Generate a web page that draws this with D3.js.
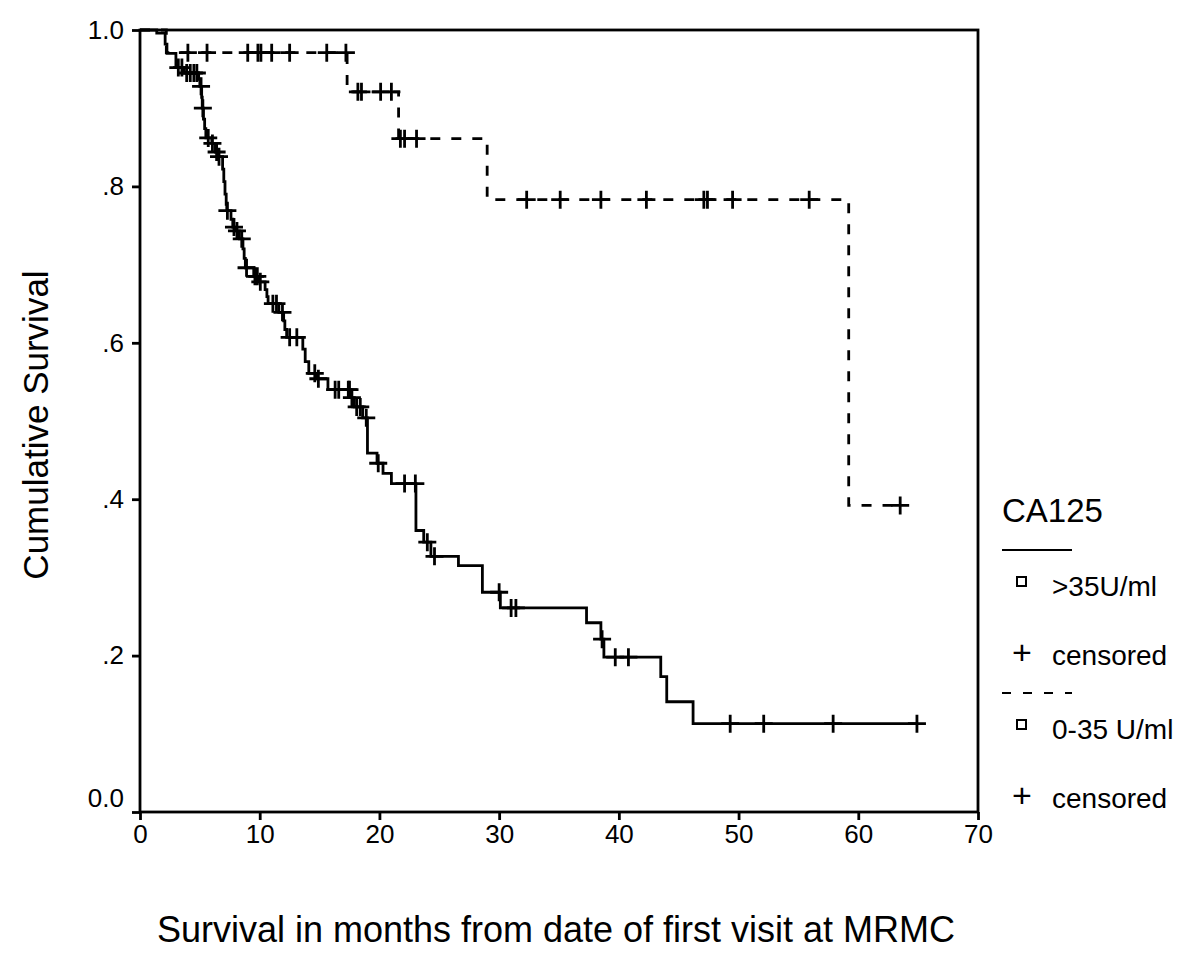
<!DOCTYPE html>
<html>
<head>
<meta charset="utf-8">
<script src="https://cdn.jsdelivr.net/npm/d3@7"></script>
<style>
    body { margin: 0; background: white; }
    text { font-family: "Liberation Sans", Arial, sans-serif; fill: black; }
</style>
</head>
<body>
<div id="container"></div>
<script>
// step data: [month, survival after the drop]
const highSteps = [
    [1.4, 0.996], [2.1, 0.982], [2.25, 0.970], [3.0, 0.952], [3.7, 0.945],
    [4.9, 0.937], [5.0, 0.928], [5.15, 0.914], [5.2, 0.900], [5.3, 0.886],
    [5.4, 0.874], [5.5, 0.862], [6.0, 0.855], [6.3, 0.844], [6.55, 0.838],
    [6.9, 0.822], [7.0, 0.806], [7.1, 0.790], [7.2, 0.777], [7.25, 0.769],
    [7.6, 0.758], [7.75, 0.748], [8.0, 0.743], [8.3, 0.733], [8.6, 0.720],
    [8.7, 0.708], [8.8, 0.696], [9.5, 0.685], [9.9, 0.678], [10.45, 0.668],
    [10.6, 0.659], [10.7, 0.650], [11.6, 0.639], [12.0, 0.628], [12.1, 0.617],
    [12.25, 0.607], [13.6, 0.592], [13.8, 0.576], [14.1, 0.561], [14.7, 0.554],
    [15.7, 0.540], [17.6, 0.530], [17.9, 0.518], [18.6, 0.504], [19.0, 0.459],
    [19.8, 0.446], [20.3, 0.433], [21.0, 0.420], [23.05, 0.360], [23.7, 0.345],
    [24.3, 0.327], [26.6, 0.315], [28.6, 0.281], [30.1, 0.261], [37.3, 0.242],
    [38.5, 0.221], [38.75, 0.198], [43.5, 0.173], [44.0, 0.141], [46.2, 0.113]
]
const highCensored = [
    3.2, 3.5, 3.9, 4.2, 4.5, 4.75, 5.1, 5.25, 5.7, 6.05, 6.4, 6.6, 7.3, 7.85,
    8.1, 8.5, 8.9, 9.6, 9.8, 10.05, 11.1, 11.4, 11.9, 12.5, 13.1, 14.6, 14.9,
    16.3, 16.6, 17.4, 17.5, 17.7, 18.1, 18.4, 18.9, 19.9, 22.1, 23.0, 24.0,
    24.6, 30.0, 31.0, 31.4, 38.6, 39.7, 40.8, 49.3, 52.1, 57.9, 64.9
]
const lowSteps = [
    [2.2, 0.971], [17.3, 0.921], [21.6, 0.861], [29.0, 0.783], [59.2, 0.392]
]
const lowCensored = [
    4.0, 5.6, 9.0, 9.85, 10.1, 11.0, 12.5, 15.6, 17.2, 18.2, 18.5, 20.1, 21.0,
    21.75, 22.1, 23.1, 32.3, 35.1, 38.5, 42.3, 47.1, 47.4, 49.5, 55.9, 63.5
]
const xTicks = [0, 10, 20, 30, 40, 50, 60, 70]
const yTicks = [0, 0.2, 0.4, 0.6, 0.8, 1.0]
const yTickLabels = ["0.0", ".2", ".4", ".6", ".8", "1.0"]
const legendTitle = "CA125"
const groupNames = [">35U/ml", "0-35 U/ml"]
const censorName = "censored"

const w = 1200
const h = 975
const mLeft = 140, mRight = 978, mTop = 30, mBottom = 812

const svg = d3.select("#container")
    .append("svg")
    .attr("width", w)
    .attr("height", h)
    .style("background-color", "white")

const xScale = d3.scaleLinear().domain([0, 70]).range([mLeft, mRight])
const yScale = d3.scaleLinear().domain([0, 1]).range([mBottom, mTop])

const xAxis = d3.axisBottom(xScale)
    .tickValues(xTicks)
    .tickSize(8)
    .tickPadding(5)
    .tickSizeOuter(0)
const yAxis = d3.axisLeft(yScale)
    .tickValues(yTicks)
    .tickFormat((d, i) => yTickLabels[i])
    .tickSize(8)
    .tickPadding(8)
    .tickSizeOuter(0)

const gx = svg.append("g")
    .attr("transform", `translate(0, ${mBottom})`)
    .call(xAxis)
const gy = svg.append("g")
    .attr("transform", `translate(${mLeft}, 0)`)
    .call(yAxis)
for (const g of [gx, gy]) {
    g.select(".domain").remove()
    g.selectAll("line").attr("stroke", "black").attr("stroke-width", 2.8)
    g.selectAll("text").style("font-size", "26px").attr("fill", "black")
}
// spss lifts the 0.0 label off the corner
gy.selectAll(".tick text").filter((d) => d === 0).attr("y", -14)

svg.append("rect")
    .attr("x", mLeft)
    .attr("y", mTop)
    .attr("width", mRight - mLeft)
    .attr("height", mBottom - mTop)
    .attr("fill", "none")
    .attr("stroke", "black")
    .attr("stroke-width", 2.8)

function survAt(steps, t) {
    let s = 1
    for (const [st, sv] of steps) if (st <= t) s = sv
    return s
}

const line = d3.line()
    .x((d) => xScale(d[0]))
    .y((d) => yScale(d[1]))
    .curve(d3.curveStepAfter)

const groups = [
    { steps: highSteps, censored: highCensored, dash: null },
    { steps: lowSteps, censored: lowCensored, dash: "10,11" },
]

groups.forEach((g) => {
    const end = d3.max(g.censored)
    const pts = [[0, 1], ...g.steps, [end, survAt(g.steps, end)]]
    svg.append("path")
        .datum(pts)
        .attr("d", line)
        .attr("fill", "none")
        .attr("stroke", "black")
        .attr("stroke-width", 2.8)
        .attr("stroke-dasharray", g.dash)

    const marks = svg.append("g")
    g.censored.forEach((t) => {
        const cx = xScale(t)
        const cy = yScale(survAt(g.steps, t))
        marks.append("path")
            .attr("d", `M${cx - 9},${cy}H${cx + 9}M${cx},${cy - 9}V${cy + 9}`)
            .attr("stroke", "black")
            .attr("stroke-width", 2.8)
            .attr("fill", "none")
    })
})

// legend
const lg = svg.append("g")
lg.append("text")
    .attr("x", 1002)
    .attr("y", 522)
    .text(legendTitle)
    .style("font-size", "33px")

const rows = [
    { y: 550, dash: null, name: groupNames[0] },
    { y: 693, dash: "9,12", name: groupNames[1] },
]
rows.forEach((r) => {
    lg.append("line")
        .attr("x1", 1002).attr("x2", 1072)
        .attr("y1", r.y).attr("y2", r.y)
        .attr("stroke", "black")
        .attr("stroke-width", 2.2)
        .attr("stroke-dasharray", r.dash)
    lg.append("rect")
        .attr("x", 1017).attr("y", r.y + 27)
        .attr("width", 9).attr("height", 9)
        .attr("fill", "none")
        .attr("stroke", "black")
        .attr("stroke-width", 2)
    lg.append("text")
        .attr("x", 1052).attr("y", r.y + 46)
        .text(r.name)
        .style("font-size", "28px")
    lg.append("text")
        .attr("x", 1022).attr("y", r.y + 114)
        .attr("text-anchor", "middle")
        .text("+")
        .style("font-size", "34px")
    lg.append("text")
        .attr("x", 1052).attr("y", r.y + 115)
        .text(censorName)
        .style("font-size", "28px")
})

svg.append("text")
    .attr("transform", `translate(48, 425) rotate(-90)`)
    .attr("text-anchor", "middle")
    .text("Cumulative Survival")
    .style("font-size", "35px")
svg.append("text")
    .attr("x", 556)
    .attr("y", 942)
    .attr("text-anchor", "middle")
    .text("Survival in months from date of first visit at MRMC")
    .style("font-size", "36px")
</script>
</body>
</html>
